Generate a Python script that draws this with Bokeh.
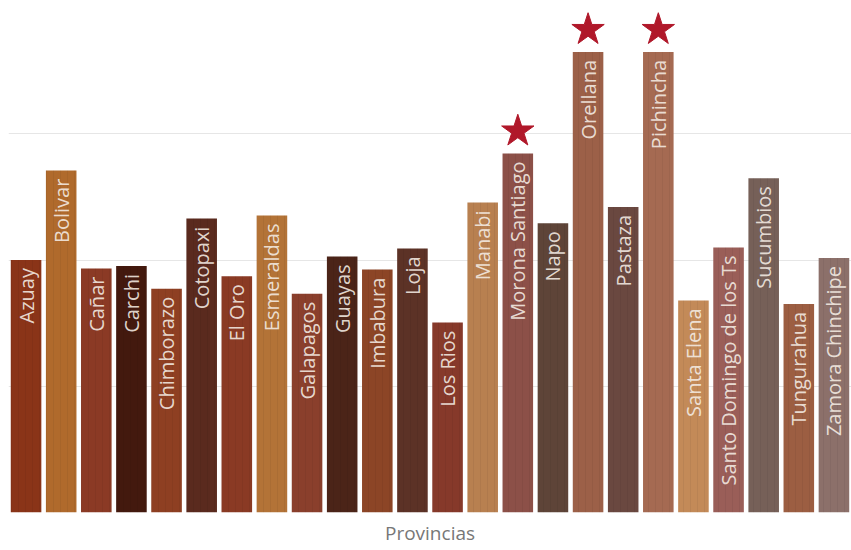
import math
from bokeh.plotting import figure
from bokeh.models import ColumnDataSource, FactorRange, Range1d, FixedTicker, Title
from bokeh.core.properties import value
from bokeh.embed import file_html
from bokeh.resources import INLINE

provincias = ["Azuay", "Bolivar", "Cañar", "Carchi", "Chimborazo", "Cotopaxi", "El Oro",
              "Esmeraldas", "Galapagos", "Guayas", "Imbabura", "Loja", "Los Rios", "Manabi",
              "Morona Santiago", "Napo", "Orellana", "Pastaza", "Pichincha", "Santa Elena",
              "Santo Domingo de los Ts", "Sucumbios", "Tungurahua", "Zamora Chinchipe"]
valores = [50.0, 67.7, 48.3, 48.8, 44.3, 58.2, 46.8, 58.8, 43.3, 50.7, 48.1, 52.3,
           37.6, 61.4, 71.1, 57.3, 91.2, 60.5, 91.2, 42.0, 52.5, 66.2, 41.3, 50.4]
colores = ["#8A3418", "#B06A2C", "#8B3A25", "#43190E", "#8E3F22", "#5A2A1E", "#8A3A24",
           "#B37337", "#8A3F2C", "#4B2418", "#8C4526", "#5C3226", "#86392A", "#B88050",
           "#8C5048", "#5E4438", "#9C6048", "#6A4840", "#A56A52", "#C38A58", "#9A5E58",
           "#766058", "#9C5E42", "#8C706A"]
destacadas = ["Morona Santiago", "Orellana", "Pichincha"]
y_ticks = [0, 25, 50, 75, 100]
titulo_x = "Provincias"

src = ColumnDataSource(dict(x=provincias, top=valores, color=colores))
star_vals = [valores[provincias.index(d)] + 4.4 for d in destacadas]
star_src = ColumnDataSource(dict(x=destacadas, y=star_vals))

p = figure(x_range=FactorRange(factors=provincias, range_padding=0),
           y_range=Range1d(0, 100), width=851, height=550,
           output_backend="svg", toolbar_location=None,
           min_border_left=8, min_border_right=0, min_border_top=7, min_border_bottom=38)
p.outline_line_color = None
p.background_fill_color = "white"
p.border_fill_color = "white"

p.vbar(x="x", top="top", bottom=0, width=0.87, fill_color="color", line_color=None, source=src)
# subtle grain
p.vbar(x="x", top="top", bottom=0, width=0.87, fill_alpha=0, line_color=None,
       hatch_pattern="vertical_line", hatch_color="#000000", hatch_alpha=0.05,
       hatch_scale=7, hatch_weight=1, source=src)

p.text(x="x", y="top", text="x", angle=math.pi / 2, text_align="right",
       text_baseline="middle", y_offset=8, text_color="#F4ECE4", text_alpha=0.9,
       text_font=value("Open Sans"), text_font_size="20px", source=src)

p.scatter(x="x", y="y", marker="star", size=34, fill_color="#B0182A",
          line_color="#B0182A", source=star_src)

p.xaxis.visible = False
p.yaxis.visible = False
p.xgrid.visible = False
p.ygrid.ticker = FixedTicker(ticks=y_ticks)
p.ygrid.grid_line_color = "#E6E6E6"
p.ygrid.grid_line_width = 1

t = Title(text=titulo_x, align="center", text_font="Open Sans",
          text_font_size="19px", text_font_style="normal", text_color="#777777",
          standoff=10)
p.add_layout(t, "below")

open("out.html", "w").write(file_html(p, INLINE))
